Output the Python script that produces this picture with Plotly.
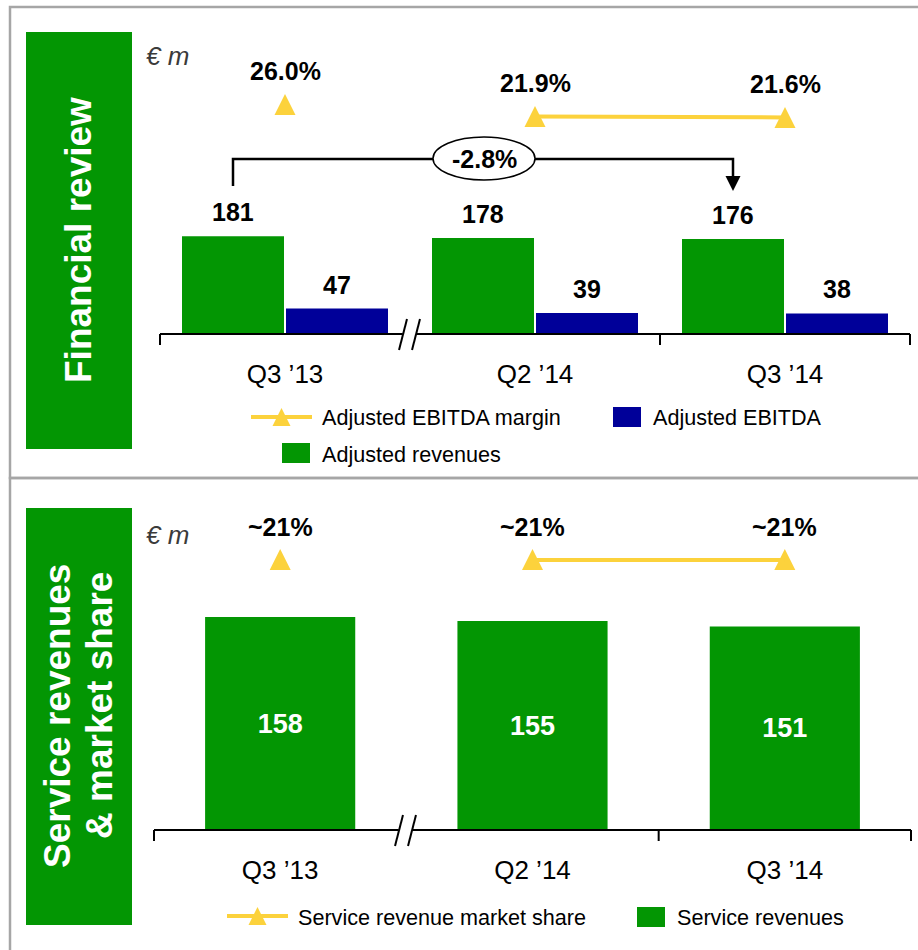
import plotly.graph_objects as go

# ---------------- data ----------------
cats = ["Q3 \u201913", "Q2 \u201914", "Q3 \u201914"]
adj_revenues = [181, 178, 176]
adj_ebitda = [47, 39, 38]
ebitda_margin = [26.0, 21.9, 21.6]
margin_labels = ["26.0%", "21.9%", "21.6%"]
change_label = "-2.8%"
svc_revenues = [158, 155, 151]
svc_share = [21, 21, 21]
share_labels = ["~21%", "~21%", "~21%"]

# ---------------- style ----------------
W, H = 918, 950
GREEN = "#039603"
BLUE = "#000099"
YELLOW = "#FCD23C"
GRAY = "#A6A6A6"
FONT = "Liberation Sans, Arial, sans-serif"


def PX(x):
    return x / W


def PY(y):
    return 1 - y / H


xs = list(range(len(cats)))
BW = 0.408          # width of each top bar (axis units)
G_OFF = -0.412      # green bar offset
B_OFF = 0.004       # blue bar offset
g_center = [x + G_OFF + BW / 2 for x in xs]
b_center = [x + B_OFF + BW / 2 for x in xs]

TOP_DOM = (160, 910)    # pixel extent of top x axis
BOT_DOM = (154, 911)    # pixel extent of bottom x axis

fig = go.Figure()

# top chart bars
fig.add_trace(go.Bar(x=xs, y=adj_revenues, width=BW, offset=G_OFF, marker_color=GREEN,
                     marker_line_width=0, name="Adjusted revenues", showlegend=False,
                     xaxis="x", yaxis="y"))
fig.add_trace(go.Bar(x=xs, y=adj_ebitda, width=BW, offset=B_OFF, marker_color=BLUE,
                     marker_line_width=0, name="Adjusted EBITDA", showlegend=False,
                     xaxis="x", yaxis="y"))
# margin line (only the comparable quarters are connected)
fig.add_trace(go.Scatter(x=xs[1:], y=ebitda_margin[1:], mode="lines",
                         line=dict(color=YELLOW, width=4), showlegend=False,
                         hoverinfo="skip", xaxis="x", yaxis="y5"))
fig.add_trace(go.Scatter(x=xs, y=ebitda_margin, mode="markers",
                         marker=dict(symbol="arrow-up", size=21, color=YELLOW),
                         name="Adjusted EBITDA margin", showlegend=False,
                         xaxis="x", yaxis="y3"))

# bottom chart bars
fig.add_trace(go.Bar(x=xs, y=svc_revenues, width=0.595, marker_color=GREEN,
                     marker_line_width=0, name="Service revenues", showlegend=False,
                     text=[str(v) for v in svc_revenues], textposition="inside",
                     insidetextanchor="middle",
                     textfont=dict(family=FONT, size=27, color="white", weight="bold"),
                     xaxis="x2", yaxis="y2"))
fig.add_trace(go.Scatter(x=xs[1:], y=svc_share[1:], mode="lines",
                         line=dict(color=YELLOW, width=4), showlegend=False,
                         hoverinfo="skip", xaxis="x2", yaxis="y6"))
fig.add_trace(go.Scatter(x=xs, y=svc_share, mode="markers",
                         marker=dict(symbol="arrow-up", size=21, color=YELLOW),
                         name="Service revenue market share", showlegend=False,
                         xaxis="x2", yaxis="y4"))

shapes = []
ann = []

# panel borders and title boxes
shapes.append(dict(type="rect", xref="paper", yref="paper", x0=PX(10), x1=PX(930),
                   y0=PY(478), y1=PY(7), line=dict(color=GRAY, width=2.5), layer="below"))
shapes.append(dict(type="rect", xref="paper", yref="paper", x0=PX(10), x1=PX(930),
                   y0=PY(970), y1=PY(478), line=dict(color=GRAY, width=2.5), layer="below"))
for (y0, y1) in [(32, 449), (508, 925)]:
    shapes.append(dict(type="rect", xref="paper", yref="paper", x0=PX(26), x1=PX(132),
                       y0=PY(y1), y1=PY(y0), fillcolor=GREEN, line_width=0, layer="below"))

title_font = dict(family=FONT, size=37, color="white", weight="bold")
ann.append(dict(xref="paper", yref="paper", x=PX(78), y=PY(240), text="Financial review",
                textangle=-90, showarrow=False, xanchor="center", yanchor="middle",
                font=title_font))
ann.append(dict(xref="paper", yref="paper", x=PX(57), y=PY(716), text="Service revenues",
                textangle=-90, showarrow=False, xanchor="center", yanchor="middle",
                font=title_font))
ann.append(dict(xref="paper", yref="paper", x=PX(99), y=PY(706), text="&amp; market share",
                textangle=-90, showarrow=False, xanchor="center", yanchor="middle",
                font=title_font))

for yy in (56, 535):
    ann.append(dict(xref="paper", yref="paper", x=PX(144), y=PY(yy), text="<i>\u20ac m</i>",
                    showarrow=False, xanchor="left", yanchor="middle",
                    font=dict(family=FONT, size=26, color="#3a3a3a")))

# axis lines with boundary ticks
for (d0, d1), ay in ((TOP_DOM, 334), (BOT_DOM, 830)):
    shapes.append(dict(type="line", xref="paper", yref="paper", x0=PX(d0), x1=PX(d1),
                       y0=PY(ay), y1=PY(ay), line=dict(color="black", width=2)))
    unit = (d1 - d0) / 3.0
    for tx in (-0.5, 1.5, 2.5):
        px = d0 + (tx + 0.5) * unit
        shapes.append(dict(type="line", xref="paper", yref="paper",
                           x0=PX(px), x1=PX(px), y0=PY(ay), y1=PY(ay + 11),
                           line=dict(color="black", width=2)))

# axis break marks
for cx, ay in ((410, 334), (406, 830)):
    yb, yt = ay + 16, ay - 15
    shapes.append(dict(type="path", xref="paper", yref="paper",
                       path=f"M{PX(cx-11)},{PY(yb)} L{PX(cx-4)},{PY(yt)} L{PX(cx+10)},{PY(yt)} L{PX(cx+2)},{PY(yb)} Z",
                       fillcolor="white", line_width=0))
    for dx in (-11, 2):
        shapes.append(dict(type="line", xref="paper", yref="paper",
                           x0=PX(cx + dx), y0=PY(yb), x1=PX(cx + dx + 8), y1=PY(yt),
                           line=dict(color="black", width=2)))

# value labels
lab_font = dict(family=FONT, size=25, color="black", weight="bold")
for i in xs:
    ann.append(dict(xref="x", yref="y", x=g_center[i], y=adj_revenues[i], yshift=24,
                    text=str(adj_revenues[i]), showarrow=False, yanchor="middle", font=lab_font))
    ann.append(dict(xref="x", yref="y", x=b_center[i], y=adj_ebitda[i], yshift=24,
                    text=str(adj_ebitda[i]), showarrow=False, yanchor="middle", font=lab_font))
    ann.append(dict(xref="x", yref="y3", x=i, y=ebitda_margin[i], yshift=23,
                    text=margin_labels[i], showarrow=False, yanchor="middle", font=lab_font))
    ann.append(dict(xref="x2", yref="y4", x=i, y=svc_share[i], yshift=22,
                    text=share_labels[i], showarrow=False, yanchor="middle", font=lab_font))

# change bracket Q3'13 -> Q3'14 revenues
xa, xb = g_center[0], g_center[2]
shapes.append(dict(type="path", xref="x", yref="paper",
                   path=f"M{xa},{PY(186)} L{xa},{PY(159)} L{xb},{PY(159)} L{xb},{PY(177)}",
                   line=dict(color="black", width=2.5)))
shapes.append(dict(type="path", xref="x", yref="paper",
                   path=f"M{xb-0.03},{PY(176)} L{xb+0.03},{PY(176)} L{xb},{PY(191)} Z",
                   fillcolor="black", line_width=0))
shapes.append(dict(type="circle", xref="paper", yref="paper", x0=PX(433), x1=PX(535),
                   y0=PY(180), y1=PY(137), fillcolor="white", line=dict(color="black", width=1.5)))
ann.append(dict(xref="paper", yref="paper", x=PX(484), y=PY(159), text=change_label,
                showarrow=False, xanchor="center", yanchor="middle", font=lab_font))


# legends (drawn)
def leg_line(x0, x1, y):
    cx = (x0 + x1) / 2
    shapes.append(dict(type="line", xref="paper", yref="paper", x0=PX(x0), x1=PX(x1),
                       y0=PY(y), y1=PY(y), line=dict(color=YELLOW, width=4)))
    shapes.append(dict(type="path", xref="paper", yref="paper",
                       path=f"M{PX(cx-9)},{PY(y+9)} L{PX(cx+9)},{PY(y+9)} L{PX(cx)},{PY(y-9)} Z",
                       fillcolor=YELLOW, line_width=0))


def leg_box(x0, y, color):
    shapes.append(dict(type="rect", xref="paper", yref="paper", x0=PX(x0), x1=PX(x0 + 28),
                       y0=PY(y + 10), y1=PY(y - 10), fillcolor=color, line_width=0))


def leg_text(x, y, t):
    ann.append(dict(xref="paper", yref="paper", x=PX(x), y=PY(y), text=t, showarrow=False,
                    xanchor="left", yanchor="middle",
                    font=dict(family=FONT, size=21.6, color="black")))


leg_line(251, 312, 417)
leg_text(320, 418, "Adjusted EBITDA margin")
leg_box(613, 417, BLUE)
leg_text(651, 418, "Adjusted EBITDA")
leg_box(282, 453, GREEN)
leg_text(320, 454, "Adjusted revenues")

leg_line(227, 288, 916)
leg_text(296, 917, "Service revenue market share")
leg_box(637, 917, GREEN)
leg_text(675, 917, "Service revenues")

axis_common = dict(range=[-0.5, 2.5], tickvals=xs, ticktext=cats, showgrid=False,
                   zeroline=False, showline=False, ticks="", fixedrange=True,
                   tickfont=dict(family=FONT, size=26, color="black"), ticklabelstandoff=22)

hidden = dict(visible=False, fixedrange=True)
fig.update_layout(
    width=W, height=H, autosize=False,
    margin=dict(l=0, r=0, t=0, b=0),
    paper_bgcolor="white", plot_bgcolor="rgba(0,0,0,0)",
    barmode="overlay", showlegend=False,
    font=dict(family=FONT),
    xaxis=dict(domain=[PX(TOP_DOM[0]), PX(TOP_DOM[1])], anchor="y", **axis_common),
    yaxis=dict(domain=[PY(334), PY(34)], range=[0, 300 / 0.54], **hidden),
    yaxis3=dict(overlaying="y", range=[-56.0, 46.5], **hidden),
    yaxis5=dict(overlaying="y", range=[-52.41, 50.09], **hidden),
    xaxis2=dict(domain=[PX(BOT_DOM[0]), PX(BOT_DOM[1])], anchor="y2", **axis_common),
    yaxis2=dict(domain=[PY(830), PY(510)], range=[0, 320 / 1.348], **hidden),
    yaxis4=dict(overlaying="y2", range=[-75.0, 34.32], **hidden),
    yaxis6=dict(overlaying="y2", range=[-71.24, 38.08], **hidden),
    shapes=shapes,
    annotations=ann,
)

fig.write_html("out.html", config={"displayModeBar": False},
               post_script="document.body.style.margin='0px';")
